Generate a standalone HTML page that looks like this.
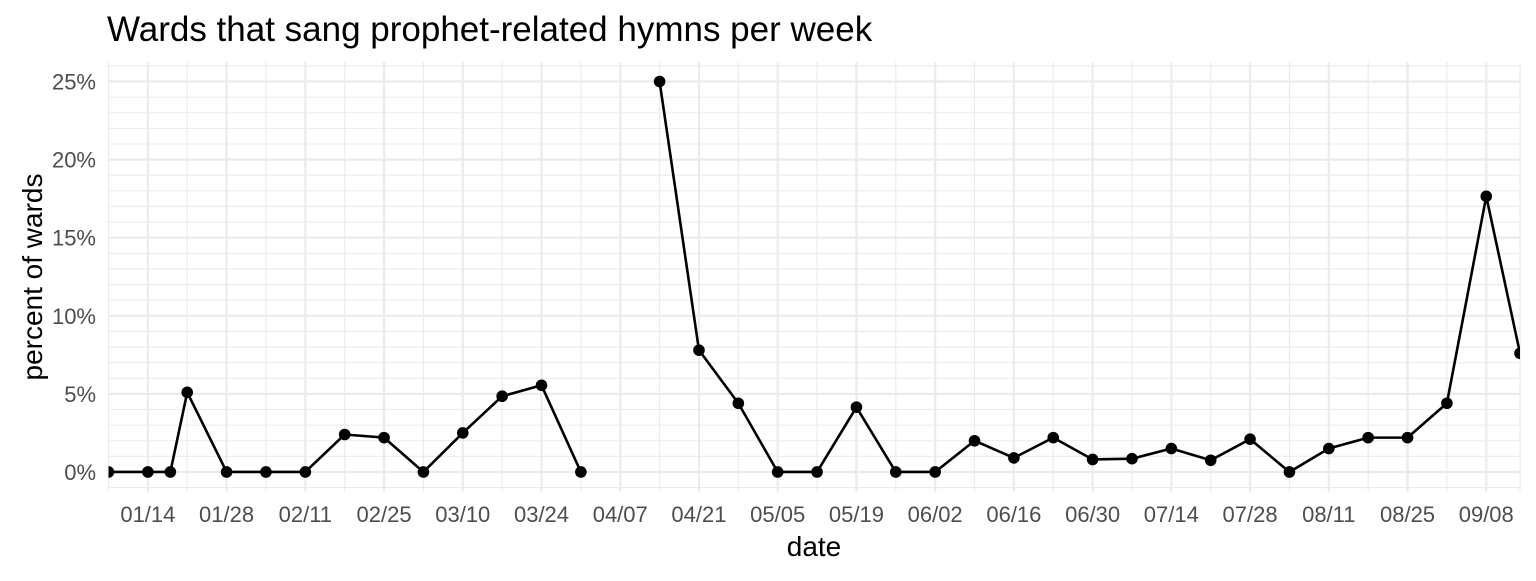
<!DOCTYPE html>
<html><head><meta charset="utf-8"><style>
html,body{margin:0;padding:0;background:#fff;}
svg text{font-family:"Liberation Sans",Arial,sans-serif;}
</style></head><body>
<svg id="chart" width="1536" height="576" xmlns="http://www.w3.org/2000/svg">
<text x="107" y="41" font-size="35" fill="#000">Wards that sang prophet-related hymns per week</text>
<g id="grid"></g>
<g id="xticks"></g>
<g id="yticks"></g>
<g id="series"></g>
<text x="814" y="556" font-size="28" text-anchor="middle" fill="#000">date</text>
<text transform="translate(42,277) rotate(-90)" font-size="28" text-anchor="middle" fill="#000">percent of wards</text>
</svg>
<script>
const dates = ["01/07","01/14","01/18","01/21","01/28","02/04","02/11","02/18","02/25","03/03","03/10","03/17","03/24","03/31",null,"04/14","04/21","04/28","05/05","05/12","05/19","05/26","06/02","06/09","06/16","06/23","06/30","07/07","07/14","07/21","07/28","08/04","08/11","08/18","08/25","09/01","09/08","09/14"];
const values = [0,0,0,5.1,0,0,0,2.4,2.2,0,2.5,4.85,5.55,0,null,25,7.8,4.4,0,0,4.15,0,0,2.0,0.9,2.2,0.8,0.85,1.5,0.75,2.1,0,1.5,2.2,2.2,4.4,17.65,7.6];
const xTickLabels = ["01/14","01/28","02/11","02/25","03/10","03/24","04/07","04/21","05/05","05/19","06/02","06/16","06/30","07/14","07/28","08/11","08/25","09/08"];
const yTickValues = [0,5,10,15,20,25];

const NS="http://www.w3.org/2000/svg";
const cum=[0,31,60,91,121,152,182,213,244];
function day(s){const [m,d]=s.split("/").map(Number);return cum[m-1]+d;}
const L=108.5,R=1520,T=62,B=491.5;
const d0=7,d1=258;
function X(d){return L+(d-d0)*(R-L)/(d1-d0);}
const y0=-1.25,y1=26.25;
function Y(v){return B-(v-y0)*(B-T)/(y1-y0);}
function mk(tag,attrs,parent){const e=document.createElementNS(NS,tag);for(const k in attrs)e.setAttribute(k,attrs[k]);parent.appendChild(e);return e;}

const grid=document.getElementById("grid");
for(let v=-1;v<=26;v++){
  const major=v%5===0;
  const l=mk("line",{x1:L,x2:R,y1:Y(v),y2:Y(v),stroke:"#ebebeb","stroke-width":major?2.2:1.1},grid);
  
  
}
for(let d=d0;d<=d1+1;d+=7){
  const major=((d-14)/7)%2===0;
  const xx=Math.min(X(d),R);
  const l=mk("line",{x1:xx,x2:xx,y1:T,y2:B,stroke:"#ebebeb","stroke-width":major?2.2:1.1},grid);
  
  
}
const xt=document.getElementById("xticks");
xTickLabels.forEach(s=>{
  const t=mk("text",{x:X(day(s)),y:522,"font-size":"22","text-anchor":"middle",fill:"#4d4d4d"},xt);
  t.textContent=s;
  
  
});
const yt=document.getElementById("yticks");
yTickValues.forEach(v=>{
  const t=mk("text",{x:96,y:Y(v)+8,"font-size":"22","text-anchor":"end",fill:"#4d4d4d"},yt);
  t.textContent=v+"%";
  
  
});
const sg=document.getElementById("series");
const cp=mk("clipPath",{id:"pc"},sg);
mk("rect",{x:L,y:T,width:R-L,height:B-T},cp);
sg.setAttribute("clip-path","url(#pc)");
let segs=[],cur=[];
dates.forEach((s,i)=>{
  if(s===null||values[i]===null){if(cur.length)segs.push(cur);cur=[];return;}
  cur.push([X(day(s)),Y(values[i])]);
});
if(cur.length)segs.push(cur);
segs.forEach(sgm=>{
  const p=mk("polyline",{points:sgm.map(p=>p.join(",")).join(" "),fill:"none",stroke:"#000","stroke-width":2.6,"stroke-linejoin":"round"},sg);
  
  
});
dates.forEach((s,i)=>{
  if(s===null||values[i]===null)return;
  const c=mk("circle",{cx:X(day(s)),cy:Y(values[i]),r:5.8,fill:"#000"},sg);
  
  
});
</script>
</body></html>
